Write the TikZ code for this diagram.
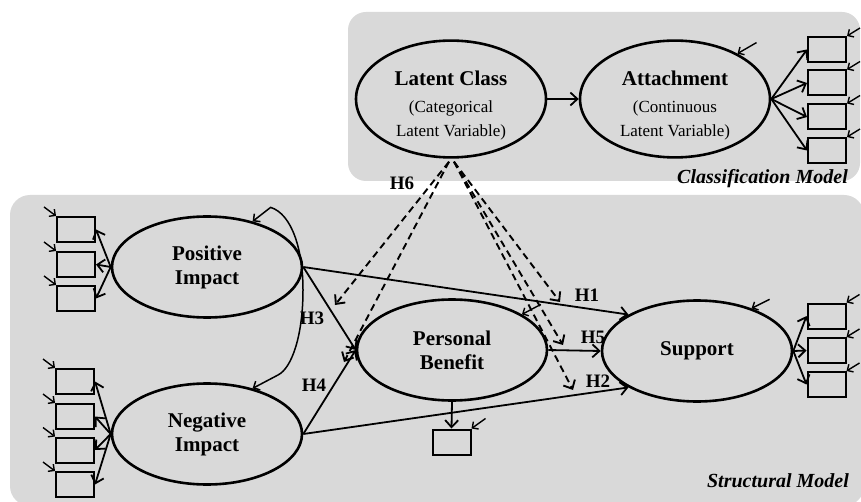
\documentclass[tikz,border=0pt]{standalone}
\usepackage{fontspec}
\setmainfont{Liberation Serif}
\usetikzlibrary{arrows.meta,shapes.geometric,calc}
\definecolor{panelgray}{RGB}{217,217,217}
\newcommand{\subl}[1]{{\fontsize{17}{20}\selectfont\mdseries #1}}
\begin{document}
\begin{tikzpicture}[x=1pt,y=-1pt,
  lv/.style={ellipse, draw, line width=2.6pt, minimum width=190pt, minimum height=101pt, inner sep=0pt, align=center, font=\fontsize{21}{24}\selectfont\bfseries},
  ind/.style={draw, line width=2pt, minimum width=38pt, minimum height=25pt, inner sep=0pt},
  arr/.style={line width=1.8pt, -{Straight Barb[length=7pt,width=13pt]}},
  earr/.style={line width=1.4pt, -{Straight Barb[length=4.5pt,width=9pt]}},
  modarr/.style={line width=1.9pt, dash pattern=on 7pt off 4.5pt, -{Straight Barb[length=7pt,width=13pt]}},
  hlab/.style={font=\fontsize{19}{22}\selectfont\bfseries, inner sep=0pt},
  plab/.style={font=\fontsize{20}{22}\selectfont\bfseries\itshape, inner sep=0pt, anchor=base east}
]
\useasboundingbox (0,0) rectangle (861,502);
\fill[white] (0,0) rectangle (861,502);
% panels
\fill[panelgray, rounded corners=18pt] (348,12) rectangle (860,181);
\fill[panelgray, rounded corners=20pt] (10,195) rectangle (864,506);

% latent variables
\node[lv] (lc) at (451,99) {\rule{0pt}{28pt}Latent Class\\[3pt]\subl{(Categorical}\\[0pt]\subl{Latent Variable)}};
\node[lv] (att) at (675,99) {\rule{0pt}{28pt}Attachment\\[3pt]\subl{(Continuous}\\[0pt]\subl{Latent Variable)}};
\node[lv] (pi) at (207,267) {Positive\\Impact};
\node[lv] (ni) at (207,434) {Negative\\Impact};
\node[lv] (pb) at (452,350) {Personal\\Benefit};
\node[lv] (sup) at (697,351) {Support};

% indicators
\node[ind] (a1) at (827,49.5) {};
\node[ind] (a2) at (827,83) {};
\node[ind] (a3) at (827,117) {};
\node[ind] (a4) at (827,150.5) {};
\node[ind] (s1) at (826.5,316) {};
\node[ind] (s2) at (826.5,350.5) {};
\node[ind] (s3) at (826.5,384.5) {};
\node[ind] (p1) at (76,229.5) {};
\node[ind] (p2) at (76,264.5) {};
\node[ind] (p3) at (76,298.5) {};
\node[ind] (n1) at (75,381.5) {};
\node[ind] (n2) at (75,416.5) {};
\node[ind] (n3) at (75,450) {};
\node[ind] (n4) at (75,484.5) {};
\node[ind] (pbx) at (451.5,442) {};

% loadings
\draw[arr] (lc.east) -- (att.west);
\foreach \b in {a1,a2,a3,a4} \draw[arr] (att.east) -- (\b.west);
\foreach \b in {s1,s2,s3} \draw[arr] (sup.east) -- (\b.west);
\foreach \b in {p1,p2,p3} \draw[arr] (pi.west) -- (\b.east);
\foreach \b in {n1,n2,n3,n4} \draw[arr] (ni.west) -- (\b.east);
\draw[arr] (pb.south) -- (pbx.north);

% error terms
\foreach \b in {a1,a2,a3,a4,s1,s2,s3} \draw[earr] ($(\b.north east)+(13,-8)$) -- (\b.north east);
\foreach \b in {p1,p2,p3,n1,n2,n3,n4} \draw[earr] ($(\b.north west)+(-12,-9)$) -- (\b.north west);
\draw[earr] ($(pbx.north east)+(14,-10)$) -- (pbx.north east);
\draw[earr] ($(att.36)+(19,-11)$) -- (att.36);
\draw[earr] ($(sup.38)+(18,-9)$) -- (sup.38);
\draw[earr] ($(pb.27)+(19,-10)$) -- (pb.27);

% covariance
\draw[line width=1.5pt, {Straight Barb[length=5pt,width=10pt]}-{Straight Barb[length=5pt,width=10pt]}]
  (pi.45) -- ++(18,-14) .. controls (292,214) and (303,250) .. (303,290)
  .. controls (303,335) and (292,368) .. (278,375) -- (ni.45);

% structural paths
\draw[arr] (pi.east) -- (sup.152);
\draw[arr] (ni.east) -- (sup.208);
\draw[arr] (pi.east) -- (pb.west);
\draw[arr] (ni.east) -- (pb.west);
\draw[arr] (pb.east) -- (sup.west);

% moderation
\coordinate (t3) at (335,305);
\coordinate (t4) at (344,362);
\coordinate (t1) at (560,302);
\coordinate (t5) at (563,345);
\coordinate (t2) at (573,390);
\draw[modarr] ($(lc.south)+(-2,3)$) -- (t3);
\draw[modarr] ($(lc.south)+(-2,3)$) -- (t4);
\draw[modarr] ($(lc.south)+(3,3)$) -- (t1);
\draw[modarr] ($(lc.south)+(3,3)$) -- (t5);
\draw[modarr] ($(lc.south)+(3,3)$) -- (t2);

% labels
\node[hlab] (h1) at (587,295) {H1};
\node[hlab] (h2) at (598,381) {H2};
\node[hlab] (h3) at (312,318) {H3};
\node[hlab] (h4) at (314,385) {H4};
\node[hlab] (h5) at (593,337) {H5};
\node[hlab] (h6) at (402,183) {H6};
\node[plab] (cm) at (848,184) {Classification Model};
\node[plab] (sm) at (849,487) {Structural Model};
\end{tikzpicture}
\end{document}
